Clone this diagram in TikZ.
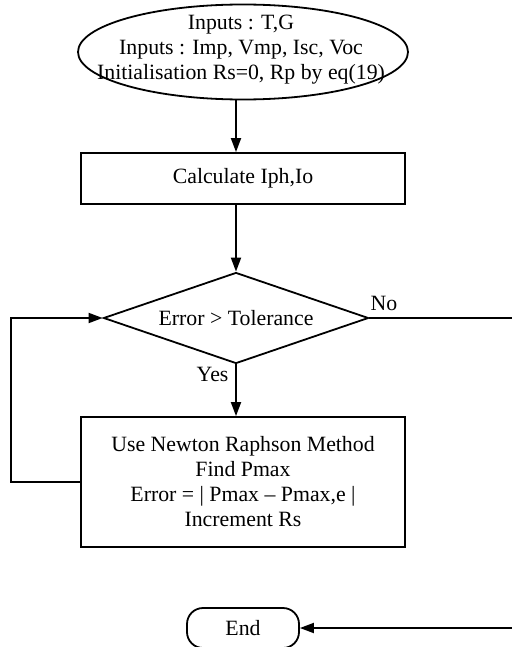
\documentclass[tikz,border=0pt]{standalone}
\usepackage{fontspec}
\setmainfont{Liberation Serif}
\usetikzlibrary{shapes.geometric,arrows.meta}

\begin{document}
\begin{tikzpicture}[x=0.5pt,y=-0.5pt,line width=0.9pt,
    every node/.style={font=\fontsize{10.9}{12.5}\selectfont},
    blk/.style={draw,rectangle,align=center,minimum width=162pt},
    dec/.style={draw,diamond,aspect=2.9,inner sep=0pt,minimum width=132.5pt,minimum height=45.5pt},
    arr/.style={-{Triangle[length=7pt,width=5pt]}}]
\useasboundingbox (0,0) rectangle (512,647);

\node (nA) [draw,ellipse,inner sep=0pt,minimum width=165pt,minimum height=47.5pt] at (243,52) {};
\node (nAtxt) [align=center] at (241,50) {Inputs : T,G\\Inputs : Imp, Vmp, Isc, Voc\\Initialisation Rs=0, Rp by eq(19)};
\node (nB) [blk,minimum height=25.5pt] at (243,178.5) {Calculate Iph,Io};
\node (nC) [dec] at (236,318) {Error > Tolerance};
\node (nD) [blk,minimum height=65pt] at (243,482) {Use Newton Raphson Method\\Find Pmax\\Error = | Pmax -- Pmax,e |\\Increment Rs};
\node (nE) [draw,rectangle,rounded corners=8pt,minimum width=56pt,minimum height=20pt] at (243,628) {End};

\coordinate (cL) at (11,0);
\coordinate (cR) at (516,318);

\draw[arr] (nA.south -| nC) -- (nB.north -| nC);
\draw[arr] (nB.south -| nC) -- (nC.north);
\draw[arr] (nC.south) -- node[pos=0.2,left]{Yes} (nD.north -| nC);
\draw[arr] (nD.west) -- (nD.west -| cL) |- (nC.west);
\draw[arr] (nC.east) -- node[pos=0.1,above]{No} (cR) |- (nE.east);
\end{tikzpicture}
\end{document}
